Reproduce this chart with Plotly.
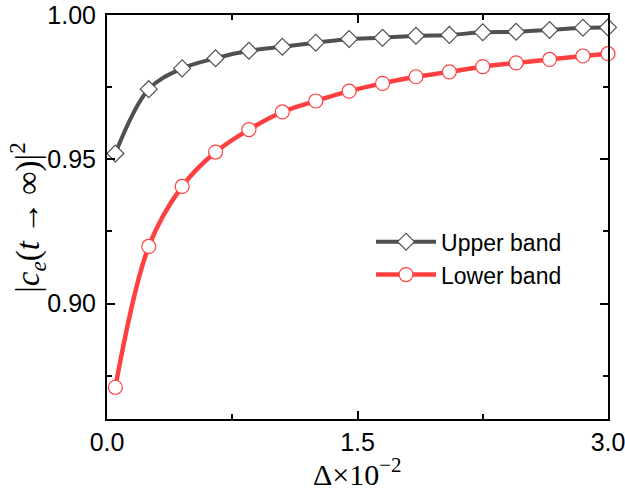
import plotly.graph_objects as go

x_vals = [0.05, 0.25, 0.45, 0.65, 0.85, 1.05, 1.25, 1.45, 1.65, 1.85,
          2.05, 2.25, 2.45, 2.65, 2.85, 3.0]
upper_band = [0.952, 0.9743, 0.9815, 0.9850, 0.9876, 0.9890, 0.9904, 0.9917,
              0.9921, 0.9928, 0.9931, 0.9940, 0.9942, 0.9948, 0.9956, 0.9957]
lower_band = [0.8710, 0.9198, 0.9406, 0.9525, 0.9603, 0.9664, 0.9702, 0.9736,
              0.9763, 0.9786, 0.9803, 0.9821, 0.9834, 0.9846, 0.9858, 0.9866]

x_ticks = [0.0, 1.5, 3.0]
x_tick_labels = ["0.0", "1.5", "3.0"]
y_ticks = [0.90, 0.95, 1.00]
y_tick_labels = ["0.90", "0.95", "1.00"]

x_title = "Δ×10<sup>−2</sup>"
y_title = "|<i>c</i><sub><i>e</i></sub>(<i>t</i>\u2009→\u2009∞)|<sup>2</sup>"

fig = go.Figure()
fig.add_trace(go.Scatter(
    x=x_vals, y=upper_band, name="Upper band", mode="lines+markers",
    line=dict(color="#505050", width=4, shape="spline", smoothing=1),
    marker=dict(symbol="diamond", size=13, color="white",
                line=dict(color="#505050", width=1.2)),
    cliponaxis=False,
))
fig.add_trace(go.Scatter(
    x=x_vals, y=lower_band, name="Lower band", mode="lines+markers",
    line=dict(color="#ff4040", width=4.5, shape="spline", smoothing=1),
    marker=dict(symbol="circle", size=14, color="white",
                line=dict(color="#ff4040", width=1.2)),
    cliponaxis=False,
))

axis_common = dict(
    showline=True, linecolor="black", linewidth=2, mirror="ticks",
    ticks="inside", ticklen=8, tickwidth=2, tickcolor="black",
    showgrid=False, zeroline=False, ticklabeloverflow="allow",
    automargin=False,
    tickfont=dict(family="Arial, Liberation Sans", size=25, color="black"),
)

fig.update_xaxes(
    range=[0, 3.0], tickvals=x_ticks, ticktext=x_tick_labels,
    minor=dict(tickvals=[0.75, 2.25], ticks="inside", ticklen=5, tickwidth=2, tickcolor="black"),
    **axis_common,
)
fig.update_yaxes(
    range=[0.86, 1.00], tickvals=y_ticks, ticktext=y_tick_labels,
    minor=dict(tickvals=[0.875, 0.925, 0.975], ticks="inside", ticklen=5, tickwidth=2, tickcolor="black"),
    ticklabelstandoff=4,
    **axis_common,
)

fig.add_annotation(
    text=x_title, xref="paper", yref="paper", x=0.5, y=-0.132,
    xanchor="center", yanchor="middle", showarrow=False,
    font=dict(family="Liberation Serif, Times New Roman", size=30, color="black"),
)
fig.add_annotation(
    text=y_title, xref="paper", yref="paper", x=-0.16, y=0.5,
    xanchor="center", yanchor="middle", showarrow=False, textangle=-90,
    font=dict(family="Liberation Serif, Times New Roman", size=33, color="black"),
)

fig.update_layout(
    width=625, height=491,
    margin=dict(l=107, r=17, t=15, b=72, autoexpand=False),
    plot_bgcolor="white", paper_bgcolor="white",
    legend=dict(x=0.527, y=0.492, xanchor="left", yanchor="top",
                bgcolor="rgba(0,0,0,0)", itemwidth=60,
                font=dict(family="Arial, Liberation Sans", size=23, color="black"),
                tracegroupgap=0, itemsizing="trace"),
    showlegend=True,
)

fig.write_html("out.html", config={"displayModeBar": False},
               post_script="document.body.style.margin='0';document.body.style.overflow='hidden';")
